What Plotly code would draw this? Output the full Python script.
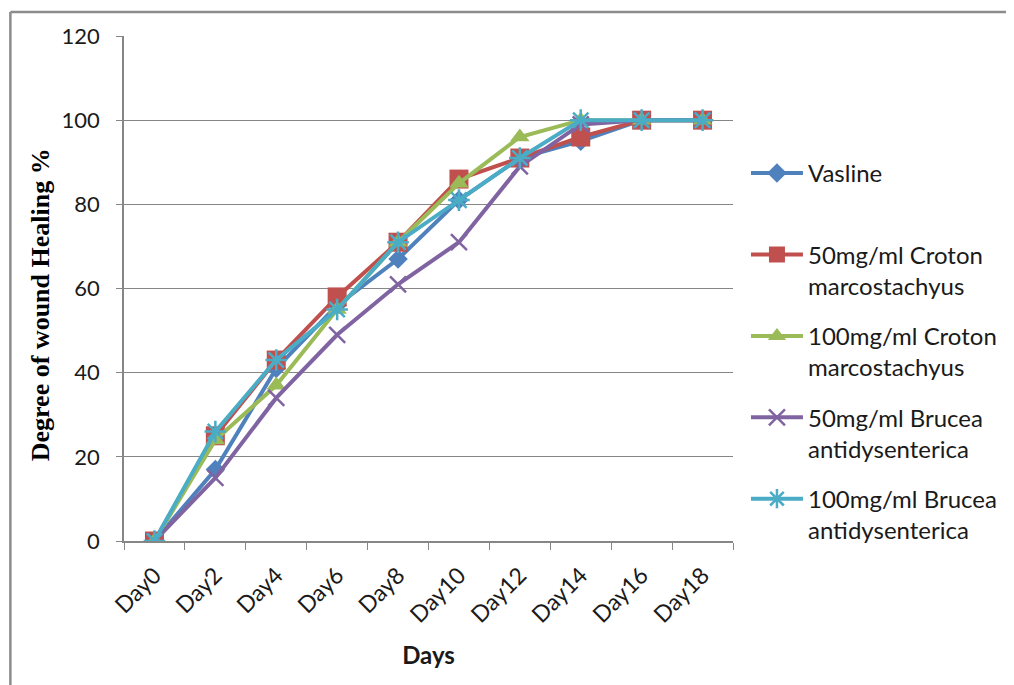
import plotly.graph_objects as go

days = ["Day0", "Day2", "Day4", "Day6", "Day8", "Day10", "Day12", "Day14", "Day16", "Day18"]
vasline = [0, 17, 41, 56, 67, 81, 91, 95, 100, 100]
croton50 = [0, 25, 43, 58, 71, 86, 91, 96, 100, 100]
croton100 = [0, 24, 37, 55, 71, 85, 96, 100, 100, 100]
brucea50 = [0, 15, 34, 49, 61, 71, 89, 99, 100, 100]
brucea100 = [0, 26, 43, 55, 71, 81, 91, 100, 100, 100]

names = ["Vasline<br> ",
         "50mg/ml Croton<br>marcostachyus",
         "100mg/ml Croton<br>marcostachyus",
         "50mg/ml Brucea<br>antidysenterica",
         "100mg/ml Brucea<br>antidysenterica"]
series = [vasline, croton50, croton100, brucea50, brucea100]
colors = ["#4F81BD", "#C0504D", "#9BBB59", "#8064A2", "#4BACC6"]
symbols = ["diamond", "square", "triangle-up", "x-thin-open", "asterisk-open"]
sizes = [15, 19, 17, 16, 18]

fig = go.Figure()
for i, (n, s, c, sym, sz) in enumerate(zip(names, series, colors, symbols, sizes)):
    open_sym = sym.endswith("open")
    fig.add_trace(go.Scatter(
        x=days, y=s, name=n, mode="lines+markers", legendgroup=f"g{i}",
        line=dict(color=c, width=4),
        marker=dict(symbol=sym, size=sz, color=c,
                    line=dict(color=c, width=2.5 if open_sym else 0)),
    ))

OFF = 8  # page body margin
W, H = 1014 - OFF, 685 - OFF
L, R, T, B = 124 - OFF, 735 - OFF, 36 - OFF, 541 - OFF
def px(p):
    return (p - OFF - L) / (R - L)
def py(p):
    return (B - (p - OFF)) / (B - T)

fig.update_layout(
    width=W, height=H,
    margin=dict(l=L, r=W - R, t=T, b=H - B),
    paper_bgcolor="white", plot_bgcolor="white",
    font=dict(family="Lato", color="#1a1a1a"),
    showlegend=True,
    legend=dict(x=px(748), y=py(151), xanchor="left", yanchor="top",
                font=dict(family="Lato", size=24, color="#1a1a1a"),
                valign="top", tracegroupgap=16, itemwidth=52,
                bgcolor="rgba(0,0,0,0)"),
    xaxis=dict(type="category", range=[-0.5, 9.5], tickson="boundaries",
               ticks="outside", ticklen=7, tickcolor="#868686",
               showline=True, linecolor="#868686", linewidth=1.5,
               showgrid=False, tickangle=-45, ticklabelstandoff=10,
               tickfont=dict(family="Lato", size=23, color="#1a1a1a"),
               title=dict(text="<b>Days</b>", font=dict(family="Lato", size=24, color="#1a1a1a"),
                          standoff=20)),
    yaxis=dict(range=[0, 120], dtick=20, ticks="outside", ticklen=6,
               tickcolor="#868686", showline=True, linecolor="#868686", linewidth=1.5,
               showgrid=True, gridcolor="#868686", gridwidth=1, zeroline=False,
               ticklabelstandoff=12,
               tickfont=dict(family="Lato", size=22, color="#1a1a1a")),
    annotations=[
        dict(text="<b>Degree of wound Healing %</b>", textangle=-90,
             xref="paper", yref="paper", x=px(40), y=py(305),
             xanchor="center", yanchor="middle", showarrow=False,
             font=dict(family="Liberation Serif", size=26, color="#000000")),
    ],
    shapes=[
        dict(type="line", xref="paper", yref="paper", x0=px(10), x1=px(1020), y0=py(12), y1=py(12),
             line=dict(color="#8c8c8c", width=2.5)),
        dict(type="line", xref="paper", yref="paper", x0=px(10), x1=px(10), y0=py(12), y1=py(690),
             line=dict(color="#8c8c8c", width=2.5)),
    ],
)

fig.write_html("out.html")
